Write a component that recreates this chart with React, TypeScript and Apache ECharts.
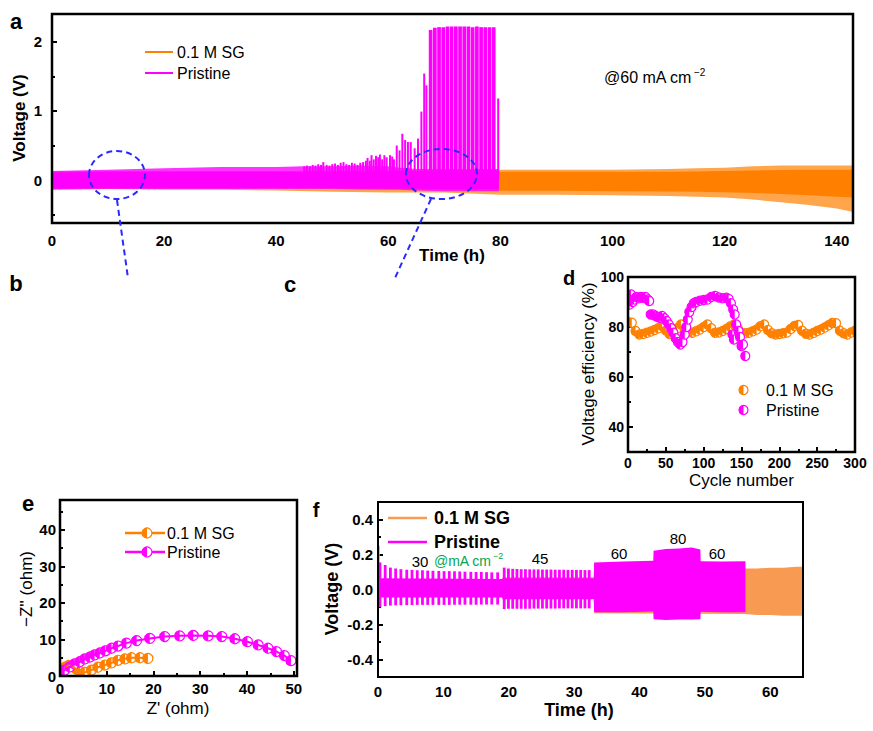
import React, { useEffect, useRef } from 'react';
import * as echarts from 'echarts';

const FONT = '"Liberation Sans", Arial, Helvetica, sans-serif';
const ORANGE = '#ff8000';
const MAGENTA = '#ff00ff';
const ORANGE_F = '#f99a52';
const GREEN = '#00a651';
const BLUE = '#2a2aff';

// ================= Panel a : long-term cycling @60 mA cm-2 =================
const aTimeTicks = [0, 20, 40, 60, 80, 100, 120, 140];
const aTimeMinor = [10, 30, 50, 70, 90, 110, 130];
const aVoltTicks = [0, 1, 2];
const aVoltMinor = [-0.5, 0.5, 1.5];

const aSgTime = [0, 10, 20, 30, 40, 50, 60, 70, 80, 90, 100, 110, 115, 120, 125, 130, 135, 140, 142.9];
const aSgToothHi = [0.13, 0.13, 0.13, 0.13, 0.13, 0.13, 0.14, 0.14, 0.15, 0.15, 0.15, 0.16, 0.17, 0.18, 0.2, 0.21, 0.21, 0.21, 0.21];
const aSgCoreHi = [0.1, 0.1, 0.1, 0.1, 0.1, 0.1, 0.1, 0.11, 0.12, 0.12, 0.12, 0.12, 0.125, 0.13, 0.14, 0.145, 0.15, 0.15, 0.15];
const aSgCoreLo = [-0.1, -0.1, -0.1, -0.1, -0.11, -0.12, -0.13, -0.14, -0.155, -0.155, -0.16, -0.165, -0.17, -0.175, -0.185, -0.2, -0.22, -0.24, -0.25];
const aSgToothLo = [-0.13, -0.13, -0.14, -0.14, -0.15, -0.17, -0.18, -0.18, -0.21, -0.21, -0.22, -0.23, -0.24, -0.25, -0.28, -0.32, -0.36, -0.41, -0.46];

const aPrTime = [0, 10, 20, 30, 40, 45, 50, 55, 60, 62, 65, 70, 75, 79.7];
const aPrToothHi = [0.13, 0.15, 0.17, 0.19, 0.19, 0.2, 0.2, 0.21, 0.2, 0.18, 0.16, 0.16, 0.16, 0.16];
const aPrCoreHi = [0.11, 0.12, 0.12, 0.12, 0.12, 0.12, 0.12, 0.12, 0.13, 0.13, 0.13, 0.13, 0.13, 0.13];
const aPrCoreLo = [-0.12, -0.115, -0.115, -0.115, -0.115, -0.115, -0.115, -0.12, -0.12, -0.12, -0.125, -0.13, -0.13, -0.13];
const aPrToothLo = [-0.14, -0.13, -0.13, -0.13, -0.13, -0.13, -0.13, -0.135, -0.14, -0.14, -0.15, -0.16, -0.16, -0.16];

const aPrSpikeTime = [45, 45.5, 46, 46.5, 47, 47.5, 48, 48.4, 49, 49.5, 50, 50.5, 51, 51.5, 52, 52.5, 53, 53.5, 54, 54.5, 55, 55.5, 56, 56.3, 56.7, 57, 57.4, 57.8, 58.2, 58.5, 58.9, 59.3, 59.7, 60.3, 60.7, 61, 61.5, 62, 62.5, 63, 63.5, 64, 64.7, 65.3, 65.9, 66.4, 66.8, 79.6];
const aPrSpikeVolt = [0.2, 0.21, 0.2, 0.22, 0.21, 0.23, 0.22, 0.26, 0.22, 0.21, 0.23, 0.24, 0.22, 0.25, 0.26, 0.23, 0.22, 0.25, 0.24, 0.22, 0.25, 0.26, 0.28, 0.32, 0.28, 0.36, 0.3, 0.35, 0.33, 0.37, 0.3, 0.36, 0.33, 0.36, 0.34, 0.3, 0.5, 0.43, 0.67, 0.58, 0.55, 0.55, 0.46, 0.6, 0.99, 1.54, 1.37, 1.18];
const aPrBlockTime = [67.55, 68.3, 69.05, 69.8, 70.55, 71.3, 72.05, 72.8, 73.55, 74.3, 75.05, 75.8, 76.55, 77.3, 78.05, 78.8];
const aPrBlockVolt = [2.17, 2.2, 2.21, 2.21, 2.22, 2.22, 2.22, 2.22, 2.22, 2.22, 2.21, 2.22, 2.21, 2.21, 2.21, 2.21];

// ================= Panel d : voltage efficiency =================
const dCycleTicks = [0, 50, 100, 150, 200, 250, 300];
const dCycleMinor = [25, 75, 125, 175, 225, 275];
const dVeTicks = [40, 60, 80, 100];
const dVeMinor = [50, 70, 90];

const dSgCycle = [0, 5, 10, 15, 20, 25, 30, 35, 40, 45, 50, 55, 60, 65, 70, 75, 80, 85, 90, 95, 100, 105, 110, 115, 120, 125, 130, 135, 140, 145, 150, 155, 160, 165, 170, 175, 180, 185, 190, 195, 200, 205, 210, 215, 220, 225, 230, 235, 240, 245, 250, 255, 260, 265, 270, 275, 280, 285, 290, 295, 300];
const dSgVE = [82, 81.7, 78.4, 77, 77.2, 77.7, 78.2, 78.8, 79.5, 80.4, 78.6, 77.2, 77.5, 79.5, 81, 79, 78, 77.7, 78.3, 79, 80, 81, 79.5, 77.7, 77.8, 78.4, 79.2, 80.2, 81, 79.5, 77.7, 77.5, 77.7, 78.3, 79, 80.3, 81, 78.8, 77.5, 77, 77.2, 77.5, 77.8, 79.2, 80.4, 80.8, 78.5, 77.3, 77, 77.6, 78.4, 79, 79.8, 80.7, 81.6, 81.5, 78.5, 77.5, 77, 77.8, 78.5];
const dPrCycle = [0, 2, 4, 6, 8, 11, 14, 17, 20, 23, 26, 28, 30, 33, 36, 39, 42, 45, 48, 51, 54, 57, 60, 63, 66, 69, 72, 75, 77, 79, 81, 84, 87, 90, 95, 100, 105, 110, 115, 120, 125, 130, 133, 136, 138, 139, 140, 141, 143, 146, 148, 150, 152, 155];
const dPrVE = [92.5, 89, 93, 90, 91, 92, 91.5, 92, 91.7, 92, 91, 90.4, 85, 85, 84.5, 84, 83.7, 84.4, 83.5, 82.4, 81, 79.5, 77.7, 75.5, 74, 73, 74, 77, 80, 83, 86, 88, 89.5, 90, 90.5, 90.8, 91, 92, 92.4, 91.8, 91.5, 91.7, 91.2, 89.5, 77, 87, 75, 85, 81, 78.4, 76, 72.4, 73, 68.4];

// ================= Panel e : Nyquist plots =================
const eZreTicks = [0, 10, 20, 30, 40, 50];
const eZreMinor = [5, 15, 25, 35, 45];
const eZimTicks = [0, 10, 20, 30, 40];
const eZimMinor = [5, 15, 25, 35, 45];

const eSgZre = [1.2, 1.9, 2.7, 3.5, 4.3, 5.3, 6.7, 8.1, 9.6, 11.0, 12.4, 13.9, 15.3, 17.1, 18.8];
const eSgZim = [2.5, 2.9, 2.6, 1.9, 1.2, 1.0, 1.6, 2.4, 3.0, 3.6, 4.3, 4.7, 5.0, 5.0, 4.8];
const ePrZre = [0.4, 1.0, 2.1, 3.1, 4.2, 5.3, 6.4, 7.4, 8.5, 9.7, 11.0, 12.4, 14.2, 16.4, 19.2, 22.4, 25.6, 28.5, 31.7, 34.6, 37.4, 40.1, 42.4, 44.5, 46.3, 48.0, 49.4];
const ePrZim = [1.1, 1.6, 2.5, 3.3, 3.9, 4.7, 5.2, 5.8, 6.3, 6.9, 7.6, 8.2, 9.0, 9.7, 10.3, 10.8, 11.0, 11.1, 11.0, 10.8, 10.2, 9.4, 8.5, 7.6, 6.7, 5.6, 4.2];

// ================= Panel f : rate performance =================
const fTimeTicks = [0, 10, 20, 30, 40, 50, 60];
const fTimeMinor = [5, 15, 25, 35, 45, 55, 65];
const fVoltTicks = [-0.4, -0.2, 0, 0.2, 0.4];
const fVoltMinor = [-0.3, -0.1, 0.1, 0.3];

const fSgTime = [0, 19, 19.1, 33, 33.1, 56, 58, 60, 62, 64, 65];
const fSgHi = [0.06, 0.06, 0.07, 0.07, 0.11, 0.12, 0.12, 0.125, 0.125, 0.13, 0.13];
const fSgLo = [-0.04, -0.04, -0.05, -0.05, -0.135, -0.14, -0.145, -0.145, -0.15, -0.15, -0.15];
const fSgSpikeTime = [0.12];
const fSgSpikeHi = [0.25];
const fSgSpikeLo = [-0.05];

const fPrCycleTime = [0.3, 1.1, 1.9, 2.7, 3.5, 4.4, 5.2, 6.0, 6.8, 7.6, 8.4, 9.3, 10.1, 10.9, 11.7, 12.5, 13.3, 14.2, 15.0, 15.8, 16.6, 17.4, 18.3,
  19.3, 19.95, 20.6, 21.25, 21.9, 22.55, 23.2, 23.85, 24.5, 25.15, 25.8, 26.45, 27.1, 27.75, 28.4, 29.05, 29.7, 30.35, 31.0, 31.65, 32.3];
const fPrCycleHi = [0.155, 0.14, 0.125, 0.12, 0.116, 0.113, 0.112, 0.11, 0.11, 0.108, 0.107, 0.106, 0.105, 0.105, 0.104, 0.103, 0.102, 0.101, 0.1, 0.1, 0.099, 0.098, 0.098,
  0.125, 0.12, 0.118, 0.117, 0.116, 0.116, 0.115, 0.115, 0.115, 0.114, 0.114, 0.114, 0.113, 0.113, 0.113, 0.112, 0.112, 0.112, 0.112, 0.111, 0.111];
const fPrCycleLo = [-0.1, -0.095, -0.092, -0.09, -0.09, -0.089, -0.089, -0.088, -0.088, -0.088, -0.088, -0.088, -0.088, -0.088, -0.087, -0.087, -0.087, -0.087, -0.087, -0.086, -0.086, -0.086, -0.086,
  -0.112, -0.11, -0.11, -0.11, -0.11, -0.11, -0.11, -0.109, -0.109, -0.109, -0.109, -0.109, -0.109, -0.108, -0.108, -0.108, -0.108, -0.108, -0.108, -0.108, -0.108];
const fPrBandTime = [0.2, 19.0, 19.05, 33.0, 33.05, 37.5, 42.1, 42.15, 44, 46, 48, 49.3, 49.35, 52.5, 56.2];
const fPrBandHi = [0.065, 0.06, 0.065, 0.065, 0.155, 0.16, 0.165, 0.222, 0.232, 0.234, 0.24, 0.228, 0.162, 0.16, 0.162];
const fPrBandLo = [-0.045, -0.045, -0.055, -0.055, -0.13, -0.13, -0.125, -0.17, -0.174, -0.172, -0.172, -0.17, -0.127, -0.13, -0.13];

// ================= helpers =================
function band(xi: number, yi: number, times: number[], hi: number[], lo: number[], color: string, opacity: number) {
  return {
    type: 'custom', xAxisIndex: xi, yAxisIndex: yi, silent: true, clip: true,
    data: [[times[0], hi[0]]],
    renderItem: (_p: any, api: any) => {
      const top = times.map((t, i) => api.coord([t, hi[i]]));
      const bot = times.map((t, i) => api.coord([t, lo[i]])).reverse();
      return { type: 'polygon', shape: { points: top.concat(bot) }, style: { fill: color, opacity } };
    },
  };
}

function bars(xi: number, yi: number, times: number[], tops: number[], bottoms: number[], color: string, widthPx: number) {
  return {
    type: 'custom', xAxisIndex: xi, yAxisIndex: yi, silent: true, clip: true,
    data: times.map((t, i) => [t, tops[i], bottoms[i]]),
    encode: { x: 0, y: [1, 2] },
    renderItem: (_p: any, api: any) => {
      const p1 = api.coord([api.value(0), api.value(1)]);
      const p0 = api.coord([api.value(0), api.value(2)]);
      return { type: 'rect', shape: { x: p1[0] - widthPx / 2, y: p1[1], width: widthPx, height: p0[1] - p1[1] }, style: { fill: color } };
    },
  };
}

function halfMarkers(xi: number, yi: number, xs: number[], ys: number[], color: string, r: number) {
  return {
    type: 'custom', xAxisIndex: xi, yAxisIndex: yi, silent: true, clip: true,
    data: xs.map((x, i) => [x, ys[i]]),
    encode: { x: 0, y: 1 },
    renderItem: (_p: any, api: any) => {
      const c = api.coord([api.value(0), api.value(1)]);
      return {
        type: 'group',
        children: [
          { type: 'circle', shape: { cx: c[0], cy: c[1], r }, style: { fill: '#fff', stroke: color, lineWidth: 1.2 } },
          { type: 'sector', shape: { cx: c[0], cy: c[1], r0: 0, r, startAngle: Math.PI / 2, endAngle: Math.PI * 1.5, clockwise: true }, style: { fill: color } },
        ],
      };
    },
  };
}

function axisPair(grid: number, pos: string, min: number, max: number, major: number[], minor: number[], fmt: (v: number) => string, fontSize: number, margin: number) {
  const base: any = { gridIndex: grid, type: 'value', min, max, position: pos, axisLine: { show: false }, splitLine: { show: false } };
  return [
    {
      ...base,
      axisTick: { show: true, inside: true, length: 5, customValues: major, lineStyle: { color: '#000', width: 2 } },
      axisLabel: { show: true, customValues: major, formatter: fmt, fontSize, fontWeight: 'bold', color: '#000', margin, fontFamily: FONT },
    },
    {
      ...base,
      axisTick: { show: true, inside: true, length: 3, customValues: minor, lineStyle: { color: '#000', width: 2 } },
      axisLabel: { show: false },
    },
  ];
}

function txt(text: string, x: number, y: number, o: any = {}) {
  const size = o.size || 16;
  const weight = o.weight || 'normal';
  const align = o.align || 'left';
  return {
    type: 'text', x, y, rotation: o.rot || 0, z: 100, silent: true,
    style: {
      text, x: 0, y: 0, fill: o.color || '#000',
      font: `${weight} ${size}px ${FONT}`,
      textAlign: align, align, textVerticalAlign: 'middle', verticalAlign: 'middle',
    },
  };
}

function seg(x1: number, y1: number, x2: number, y2: number, color: string, width: number, dash?: number[]) {
  return { type: 'line', z: 100, silent: true, shape: { x1, y1, x2, y2 }, style: { stroke: color, lineWidth: width, lineDash: dash } };
}

function legendMarker(cx: number, cy: number, r: number, color: string) {
  return {
    type: 'group', z: 100, silent: true,
    children: [
      { type: 'circle', z: 100, shape: { cx, cy, r }, style: { fill: '#fff', stroke: color, lineWidth: 1.2 } },
      { type: 'sector', z: 101, shape: { cx, cy, r0: 0, r, startAngle: Math.PI / 2, endAngle: Math.PI * 1.5, clockwise: true }, style: { fill: color } },
    ],
  };
}

function frame(x: number, y: number, w: number, h: number, lw: number) {
  return { type: 'rect', z: 100, silent: true, shape: { x, y, width: w, height: h }, style: { fill: 'none', stroke: '#000', lineWidth: lw } };
}

function buildOption() {
  const fmtInt = (v: number) => String(Math.round(v));
  const fmt1 = (v: number) => (Math.abs(v) < 1e-9 ? '0.0' : v.toFixed(1));

  const xAxis = [
    ...axisPair(0, 'bottom', 0, 142.9, aTimeTicks, aTimeMinor, fmtInt, 15, 10),
    ...axisPair(1, 'bottom', 0, 300, dCycleTicks, dCycleMinor, fmtInt, 14, 4),
    ...axisPair(2, 'bottom', 0, 50.7, eZreTicks, eZreMinor, fmtInt, 15, 5),
    ...axisPair(3, 'bottom', 0, 65, fTimeTicks, fTimeMinor, fmtInt, 15, 7),
  ];
  const yAxis = [
    ...axisPair(0, 'left', -0.62, 2.4, aVoltTicks, aVoltMinor, fmtInt, 15, 10),
    ...axisPair(1, 'left', 30, 100, dVeTicks, dVeMinor, fmtInt, 14, 4),
    ...axisPair(2, 'left', 0, 48.2, eZimTicks, eZimMinor, fmtInt, 15, 4),
    ...axisPair(3, 'left', -0.5, 0.5, fVoltTicks, fVoltMinor, fmt1, 15, 5),
  ];

  const series: any[] = [
    // panel a
    band(0, 0, aSgTime, aSgToothHi, aSgToothLo, ORANGE, 0.7),
    band(0, 0, aSgTime, aSgCoreHi, aSgCoreLo, ORANGE, 1),
    band(0, 0, aPrTime, aPrToothHi, aPrToothLo, MAGENTA, 0.8),
    band(0, 0, aPrTime, aPrCoreHi, aPrCoreLo, MAGENTA, 1),
    bars(0, 0, aPrSpikeTime, aPrSpikeVolt, aPrSpikeTime.map(() => 0), MAGENTA, 2),
    bars(0, 0, aPrBlockTime, aPrBlockVolt, aPrBlockTime.map(() => 0), MAGENTA, 3.7),
    // panel d
    halfMarkers(2, 2, dSgCycle, dSgVE, ORANGE, 4.5),
    halfMarkers(2, 2, dPrCycle, dPrVE, MAGENTA, 4.5),
    // panel e
    { type: 'line', xAxisIndex: 4, yAxisIndex: 4, data: eSgZre.map((x, i) => [x, eSgZim[i]]), showSymbol: false, silent: true, lineStyle: { color: ORANGE, width: 2 } },
    halfMarkers(4, 4, eSgZre, eSgZim, ORANGE, 5),
    { type: 'line', xAxisIndex: 4, yAxisIndex: 4, data: ePrZre.map((x, i) => [x, ePrZim[i]]), showSymbol: false, silent: true, lineStyle: { color: MAGENTA, width: 2 } },
    halfMarkers(4, 4, ePrZre, ePrZim, MAGENTA, 5),
    // panel f
    band(6, 6, fSgTime, fSgHi, fSgLo, ORANGE_F, 1),
    bars(6, 6, fSgSpikeTime, fSgSpikeHi, fSgSpikeLo, ORANGE_F, 2),
    band(6, 6, fPrBandTime, fPrBandHi, fPrBandLo, MAGENTA, 1),
    bars(6, 6, fPrCycleTime, fPrCycleHi, fPrCycleLo, MAGENTA, 2.8),
  ];

  const graphic: any[] = [
    // frames
    frame(52, 14, 801, 209, 2.5),
    frame(628, 277, 227, 175, 2.5),
    frame(60, 500, 237, 176, 2.5),
    frame(378, 502, 425, 175, 2),
    // panel letters
    txt('a', 16, 21, { weight: 'bold', size: 22, align: 'center' }),
    txt('b', 16, 283, { weight: 'bold', size: 22, align: 'center' }),
    txt('c', 290, 284, { weight: 'bold', size: 22, align: 'center' }),
    txt('d', 569, 278, { weight: 'bold', size: 20, align: 'center' }),
    txt('e', 28, 503, { weight: 'bold', size: 22, align: 'center' }),
    txt('f', 316, 510, { weight: 'bold', size: 20, align: 'center' }),
    // axis names
    txt('Time (h)', 452, 255, { weight: 'bold', size: 17, align: 'center' }),
    txt('Voltage (V)', 19.5, 118, { weight: 'bold', size: 17, align: 'center', rot: Math.PI / 2 }),
    txt('Cycle number', 741.5, 480, { size: 17, align: 'center' }),
    txt('Voltage efficiency (%)', 588, 364, { size: 17, align: 'center', rot: Math.PI / 2 }),
    txt("Z' (ohm)", 178, 708, { size: 17, align: 'center' }),
    txt("\u2212Z'' (ohm)", 26, 589, { size: 17, align: 'center', rot: Math.PI / 2 }),
    txt('Time (h)', 579, 710, { weight: 'bold', size: 18, align: 'center' }),
    txt('Voltage (V)', 331.7, 589, { weight: 'bold', size: 18, align: 'center', rot: Math.PI / 2 }),
    // legend a
    seg(145, 52, 173, 52, ORANGE, 2),
    seg(145, 73, 173, 73, MAGENTA, 2),
    txt('0.1 M SG', 177, 52, { size: 16 }),
    txt('Pristine', 177, 73, { size: 16 }),
    txt('@60 mA cm', 604, 77, { size: 16 }),
    txt('\u22122', 694, 72, { size: 10 }),
    // dashed zoom guides
    { type: 'ellipse', z: 100, silent: true, shape: { cx: 117, cy: 175, rx: 28, ry: 24 }, style: { fill: 'none', stroke: BLUE, lineWidth: 2, lineDash: [6, 4] } },
    { type: 'ellipse', z: 100, silent: true, shape: { cx: 441.5, cy: 174, rx: 35.5, ry: 25 }, style: { fill: 'none', stroke: BLUE, lineWidth: 2, lineDash: [6, 4] } },
    seg(117, 200, 128, 278, BLUE, 2, [6, 4]),
    seg(431, 199, 395, 278, BLUE, 2, [6, 4]),
    // legend d
    legendMarker(743.5, 390, 4.5, ORANGE),
    legendMarker(743.5, 410, 4.5, MAGENTA),
    txt('0.1 M SG', 766, 390, { size: 16 }),
    txt('Pristine', 766, 410, { size: 16 }),
    // legend e
    seg(125, 533, 165, 533, ORANGE, 2.5),
    seg(125, 552, 165, 552, MAGENTA, 2.5),
    legendMarker(147, 533, 5, ORANGE),
    legendMarker(147, 552, 5, MAGENTA),
    txt('0.1 M SG', 167, 533, { size: 16 }),
    txt('Pristine', 167, 552, { size: 16 }),
    // legend f
    seg(388, 518, 427, 518, ORANGE_F, 2.5),
    seg(388, 542, 427, 542, MAGENTA, 2.5),
    txt('0.1 M SG', 434, 518, { size: 18, weight: 'bold' }),
    txt('Pristine', 434, 542, { size: 18, weight: 'bold' }),
    // current density annotations f
    txt('30', 420, 561, { size: 15, align: 'center' }),
    txt('@mA cm', 434, 561, { size: 14, color: GREEN }),
    txt('\u22122', 493, 556, { size: 9, color: GREEN }),
    txt('45', 540, 558, { size: 15, align: 'center' }),
    txt('60', 619, 553, { size: 15, align: 'center' }),
    txt('80', 678, 538, { size: 15, align: 'center' }),
    txt('60', 717, 553, { size: 15, align: 'center' }),
  ];

  return {
    animation: false,
    backgroundColor: '#fff',
    textStyle: { fontFamily: FONT },
    grid: [
      { left: 52, top: 14, width: 801, height: 209 },
      { left: 628, top: 277, width: 227, height: 175 },
      { left: 60, top: 500, width: 237, height: 176 },
      { left: 378, top: 502, width: 425, height: 175 },
    ],
    xAxis,
    yAxis,
    series,
    graphic,
  };
}

export default function App() {
  const ref = useRef<HTMLDivElement>(null);
  useEffect(() => {
    document.body.style.margin = '0';
    const chart = echarts.init(ref.current as HTMLDivElement, null, { renderer: 'svg', width: 873, height: 731 });
    chart.setOption(buildOption() as any);
    return () => chart.dispose();
  }, []);
  return <div ref={ref} style={{ position: 'absolute', left: 0, top: 0, width: 873, height: 731, background: '#fff' }} />;
}
